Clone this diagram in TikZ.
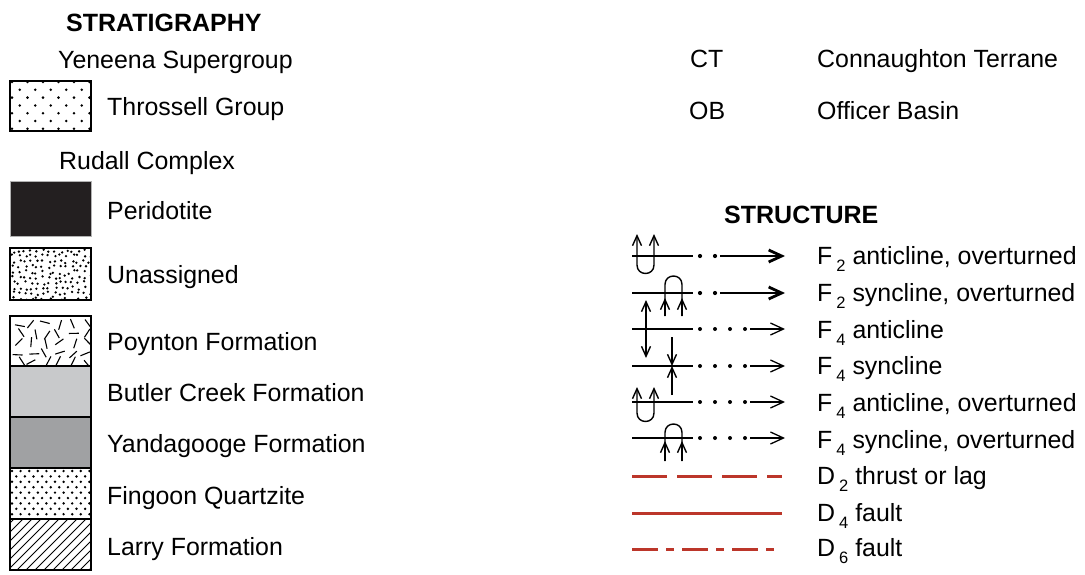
\documentclass[tikz,border=0pt]{standalone}
\usepackage{fontspec}
\setmainfont{Liberation Sans}
\usetikzlibrary{arrows.meta}
\definecolor{faultred}{RGB}{188,54,42}
\definecolor{peridot}{RGB}{35,31,32}
\definecolor{butlergray}{RGB}{200,201,203}
\definecolor{yandagray}{RGB}{160,161,163}
% lowered index used in the structure labels
\newcommand\legsub[1]{\kern4pt\lower7pt\hbox{\fontsize{16.5}{16.5}\selectfont #1}}
\begin{document}
\begin{tikzpicture}[x=1pt,y=-1pt,
  legtext/.style={anchor=base west, inner sep=0pt, font=\fontsize{24.9}{29}\selectfont},
  legtitle/.style={anchor=base west, inner sep=0pt, font=\fontsize{25}{29}\selectfont\bfseries},
  unitframe/.style={draw=black, line width=2pt},
  limb/.style={line width=1.4pt},
  vbarb/.style={line width=1.4pt, -{Straight Barb[length=10pt,width=9pt]}},
  hbarb/.style={-{Straight Barb[length=13pt,width=12pt]}},
  foldtwo/.style={line width=2.8pt},
  foldfour/.style={line width=1.3pt},
  fault/.style={draw=faultred, line width=3pt}]
\useasboundingbox (0,0) rectangle (1085,574);

% ---------------- STRATIGRAPHY ----------------
\node[legtitle] (strat) at (66,31) {STRATIGRAPHY};
\node[legtext] (yen) at (58,68) {Yeneena Supergroup};
\node[legtext] (thr) at (107,115) {Throssell Group};
\node[legtext] (rud) at (59,169) {Rudall Complex};
\node[legtext] (per) at (107,219) {Peridotite};
\node[legtext] (una) at (107,283) {Unassigned};
\node[legtext] (poy) at (107,350) {Poynton Formation};
\node[legtext] (but) at (107,401) {Butler Creek Formation};
\node[legtext] (yan) at (107,452) {Yandagooge Formation};
\node[legtext] (fin) at (107,504) {Fingoon Quartzite};
\node[legtext] (lar) at (107,555) {Larry Formation};

% Throssell Group: staggered regular dots
\begin{scope}
  \clip (10,81) rectangle (91,131);
  \foreach \j in {0,...,6} {
    \foreach \i in {0,...,6} {
      \fill ({10+2+mod(\j,2)*7.75+\i*15.5},{82+\j*7.8}) circle[radius=1.4pt];
    }
  }
\end{scope}
\draw[unitframe] (10,81) rectangle (91,131);

% Peridotite
\fill[peridot] (10,181) rectangle (91,236);
\draw[gray!60, line width=1pt] (10,181) rectangle (91,236);

% Unassigned: irregular dense dots
\pgfmathsetseed{11}
\begin{scope}
  \clip (10,248) rectangle (91,300);
  \foreach \j in {0,...,9} {
    \foreach \i in {0,...,13} {
      \pgfmathsetmacro\rx{11.5+\i*5.9+4.2*rnd}
      \pgfmathsetmacro\ry{249+\j*5.3+3.8*rnd}
      \fill (\rx,\ry) circle[radius=1.3pt];
    }
  }
\end{scope}
\draw[unitframe] (10,248) rectangle (91,300);

% Poynton Formation: scattered short dashes
\pgfmathsetseed{5}
\begin{scope}
  \clip (10,316) rectangle (91,366);
  \foreach \j in {0,...,4} {
    \foreach \i in {0,...,5} {
      \pgfmathsetmacro\rx{17+\i*13.2+6*rnd}
      \pgfmathsetmacro\ry{322+\j*9.6+4*rnd}
      \pgfmathsetmacro\ra{180*rnd}
      \draw[line width=1.1pt, shift={(\rx,\ry)}] (\ra:5) -- (\ra+180:5);
    }
  }
\end{scope}

% Butler Creek and Yandagooge formations
\fill[butlergray] (10,366) rectangle (91,417);
\fill[yandagray] (10,417) rectangle (91,468);

% Fingoon Quartzite: dense staggered dots
\begin{scope}
  \clip (10,468) rectangle (91,519);
  \foreach \j in {0,...,9} {
    \foreach \i in {0,...,10} {
      \fill ({12+mod(\j,2)*4.3+\i*8.6},{471+\j*5.4}) circle[radius=1.35pt];
    }
  }
\end{scope}

% Larry Formation: diagonal hatching
\begin{scope}
  \clip (10,519) rectangle (91,570);
  \foreach \k in {-60,-51,...,100} {
    \draw[line width=1pt] (\k,575) -- ({\k+70},505);
  }
\end{scope}

% frames of the stacked column
\draw[unitframe] (10,316) rectangle (91,366);
\draw[unitframe] (10,366) rectangle (91,417);
\draw[unitframe] (10,417) rectangle (91,468);
\draw[unitframe] (10,468) rectangle (91,519);
\draw[unitframe] (10,519) rectangle (91,570);

% ---------------- abbreviations ----------------
\node[legtext] (ct) at (690,67) {CT};
\node[legtext] (ctn) at (817,67) {Connaughton Terrane};
\node[legtext] (ob) at (689,119) {OB};
\node[legtext] (obn) at (817,119) {Officer Basin};

% ---------------- STRUCTURE ----------------
\node[legtitle] (struct) at (724,223) {STRUCTURE};

\node[legtext] (f2a) at (817,264) {F\legsub{2} anticline, overturned};
\node[legtext] (f2s) at (817,301) {F\legsub{2} syncline, overturned};
\node[legtext] (f4a) at (817,338) {F\legsub{4} anticline};
\node[legtext] (f4s) at (817,374) {F\legsub{4} syncline};
\node[legtext] (f4ao) at (817,411) {F\legsub{4} anticline, overturned};
\node[legtext] (f4so) at (817,448) {F\legsub{4} syncline, overturned};
\node[legtext] (d2) at (817,484) {D\legsub{2} thrust or lag};
\node[legtext] (d4) at (817,521) {D\legsub{4} fault};
\node[legtext] (d6) at (817,556) {D\legsub{6} fault};

% F2 traces: thick line, two dots, thick arrow
\foreach \y in {256,293} {
  \draw[foldtwo] (632,\y) -- (693,\y);
  \fill (700,\y) circle[radius=2.1pt];
  \fill (715,\y) circle[radius=2.1pt];
  \draw[foldtwo, hbarb] (720,\y) -- (785,\y);
}
% F4 traces: thin line, four dots, thin arrow
\foreach \y in {329,366,402,438} {
  \draw[foldfour] (632,\y) -- (693,\y);
  \foreach \x in {700,715,730,745} {
    \fill (\x,\y) circle[radius=2pt];
  }
  \draw[foldfour, hbarb] (750,\y) -- (785,\y);
}

% F2 anticline, overturned: U-shaped limbs pointing up
\draw[limb, {Straight Barb[length=10pt,width=9pt]}-{Straight Barb[length=10pt,width=9pt]}]
  (637,234) -- (637,265) .. controls (637,276.3) and (654,276.3) .. (654,265) -- (654,234);
% F2 syncline, overturned: arch with upward arrows below the trace
\draw[limb] (665,316) -- (665,284.5) .. controls (665,273.2) and (682,273.2) .. (682,284.5) -- (682,316);
\draw[vbarb] (665,316) -- (665,298);
\draw[vbarb] (682,316) -- (682,298);

% F4 anticline: diverging arrows
\draw[limb, {Straight Barb[length=10pt,width=9pt]}-{Straight Barb[length=10pt,width=9pt]}] (646,300) -- (646,358);
% F4 syncline: converging arrows
\draw[vbarb] (672,337) -- (672,366);
\draw[vbarb] (672,395) -- (672,366);

% F4 anticline, overturned
\draw[limb, {Straight Barb[length=10pt,width=9pt]}-{Straight Barb[length=10pt,width=9pt]}]
  (637,387) -- (637,413) .. controls (637,424.3) and (654,424.3) .. (654,413) -- (654,387);
% F4 syncline, overturned
\draw[limb] (665,461) -- (665,432.5) .. controls (665,421.2) and (682,421.2) .. (682,432.5) -- (682,461);
\draw[vbarb] (665,461) -- (665,441);
\draw[vbarb] (682,461) -- (682,441);

% faults
\draw[fault, dash pattern=on 35pt off 10pt] (632,476) -- (782,476);
\draw[fault] (632,513) -- (782,513);
\draw[fault, dash pattern=on 26pt off 8pt on 8pt off 8pt] (632,549) -- (776,549);
\end{tikzpicture}
\end{document}
